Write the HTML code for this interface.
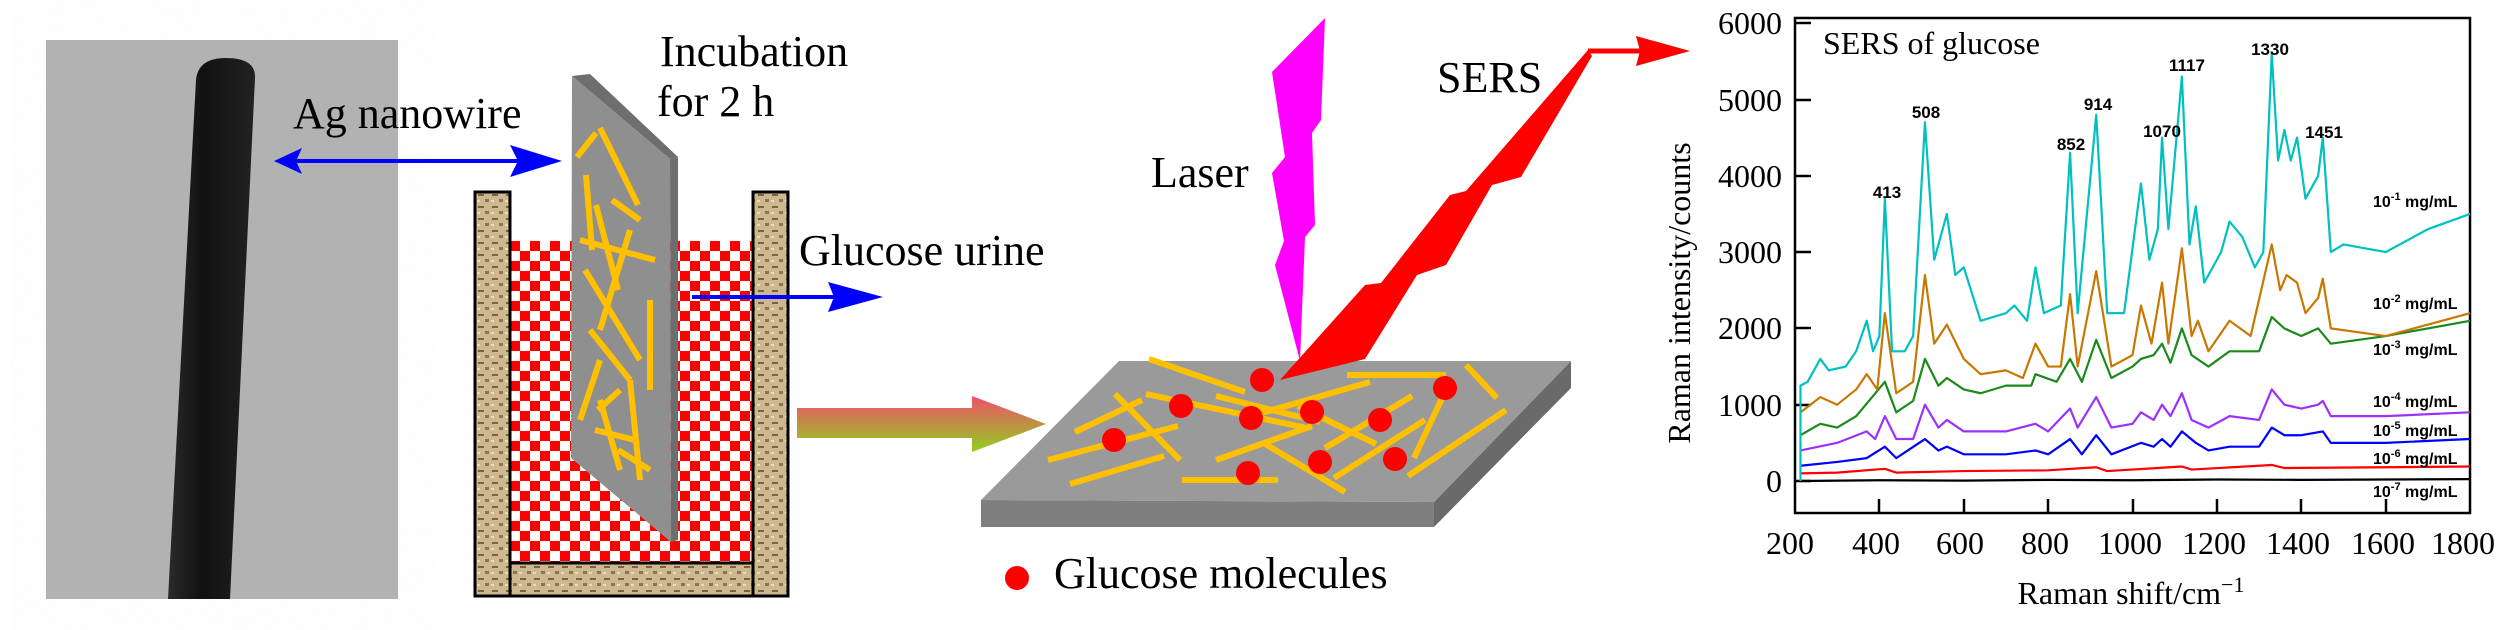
<!DOCTYPE html>
<html><head><meta charset="utf-8">
<style>
html,body{margin:0;padding:0;background:#fff;}
svg{display:block;}
.s{font-family:"Liberation Serif",serif;}
.a{font-family:"Liberation Sans",sans-serif;font-weight:bold;}
</style></head><body>
<svg width="2520" height="630" viewBox="0 0 2520 630" xmlns="http://www.w3.org/2000/svg">
<defs>
<pattern id="chk" width="20" height="20" patternUnits="userSpaceOnUse" x="510" y="241">
<rect width="20" height="20" fill="#fff"/><rect width="10" height="10" fill="#f00"/><rect x="10" y="10" width="10" height="10" fill="#f00"/>
</pattern>
<pattern id="wood" width="14" height="12" patternUnits="userSpaceOnUse">
<rect width="14" height="12" fill="#cdb88f"/><rect x="2" y="2" width="6" height="2" fill="#7a6440"/><rect x="9" y="7" width="4" height="3" fill="#8c7550"/><rect x="1" y="8" width="3" height="2" fill="#e8dcc0"/>
</pattern>
<linearGradient id="ga" x1="0" y1="0" x2="0" y2="1"><stop offset="0" stop-color="#f0506a"/><stop offset="1" stop-color="#8fd020"/></linearGradient>
<linearGradient id="wire" x1="0" y1="0" x2="1" y2="0"><stop offset="0" stop-color="#2a2a2a"/><stop offset="0.4" stop-color="#111"/><stop offset="1" stop-color="#222"/></linearGradient>
<filter id="nz"><feTurbulence baseFrequency="0.6" numOctaves="1" seed="3"/><feColorMatrix values="0 0 0 0 0.5 0 0 0 0 0.5 0 0 0 0 0.5 0 0 0 0.12 0"/></filter>
</defs>

<rect x="46" y="40" width="352" height="559" fill="#b2b2b2"/>
<rect x="46" y="40" width="352" height="559" filter="url(#nz)"/>
<path d="M196,80 Q198,58 226,58 Q256,58 255,78 L230,599 L168,599 Z" fill="url(#wire)"/>

<text class="s" x="293" y="128" font-size="44">Ag nanowire</text>
<line x1="290" y1="161" x2="540" y2="161" stroke="#0000ff" stroke-width="4"/>
<polygon points="274,161 302,148 296,161 302,174" fill="#0000ff"/>
<polygon points="562,161 510,145 518,161 510,177" fill="#0000ff"/>

<rect x="510" y="241" width="243" height="322" fill="url(#chk)"/>
<rect x="475" y="192" width="35" height="404" fill="url(#wood)" stroke="#000" stroke-width="3"/>
<rect x="753" y="192" width="35" height="404" fill="url(#wood)" stroke="#000" stroke-width="3"/>
<rect x="510" y="563" width="243" height="33" fill="url(#wood)" stroke="#000" stroke-width="3"/>
<polygon points="572,76 590,74 678,157 670,159" fill="#6e6e6e"/>
<polygon points="670,159 678,157 678,540 671,542" fill="#6e6e6e"/>
<polygon points="572,76 670,159 671,542 571,458" fill="#8f8f8f"/>
<g stroke="#ffc000" stroke-width="6">
<line x1="577" y1="157" x2="596" y2="133"/>
<line x1="600" y1="128" x2="638" y2="205"/>
<line x1="586" y1="175" x2="592" y2="250"/>
<line x1="612" y1="200" x2="640" y2="220"/>
<line x1="596" y1="205" x2="618" y2="290"/>
<line x1="580" y1="240" x2="655" y2="260"/>
<line x1="630" y1="230" x2="600" y2="330"/>
<line x1="585" y1="270" x2="640" y2="360"/>
<line x1="650" y1="300" x2="650" y2="390"/>
<line x1="590" y1="330" x2="630" y2="380"/>
<line x1="600" y1="360" x2="580" y2="420"/>
<line x1="620" y1="390" x2="598" y2="410"/>
<line x1="630" y1="380" x2="640" y2="480"/>
<line x1="600" y1="400" x2="620" y2="470"/>
<line x1="595" y1="430" x2="635" y2="440"/>
<line x1="618" y1="450" x2="650" y2="470"/>
</g>
<text class="s" x="660" y="66" font-size="44">Incubation</text>
<text class="s" x="657" y="116" font-size="44">for 2 h</text>
<text class="s" x="799" y="265" font-size="44">Glucose urine</text>
<line x1="692" y1="297" x2="840" y2="297" stroke="#0000ff" stroke-width="4"/>
<polygon points="883,297 828,282 834,297 828,312" fill="#0000ff"/>

<polygon points="797,408 972,408 972,396 1046,424 972,452 972,438 797,438" fill="url(#ga)"/>

<polygon points="981,500 1434,502 1434,527 981,527" fill="#7f7f7f"/>
<polygon points="1434,502 1571,361 1571,388 1434,527" fill="#6a6a6a"/>
<polygon points="1119,361 1571,361 1434,502 981,500" fill="#9a9a9a"/>
<g stroke="#ffc000" stroke-width="6">
<line x1="1149" y1="359" x2="1245" y2="392"/>
<line x1="1347" y1="375" x2="1446" y2="375"/>
<line x1="1466" y1="365" x2="1497" y2="398"/>
<line x1="1216" y1="396" x2="1320" y2="422"/>
<line x1="1146" y1="394" x2="1307" y2="428"/>
<line x1="1075" y1="432" x2="1142" y2="400"/>
<line x1="1115" y1="394" x2="1180" y2="460"/>
<line x1="1048" y1="460" x2="1178" y2="426"/>
<line x1="1070" y1="484" x2="1164" y2="456"/>
<line x1="1182" y1="480" x2="1278" y2="480"/>
<line x1="1216" y1="460" x2="1312" y2="426"/>
<line x1="1258" y1="414" x2="1370" y2="382"/>
<line x1="1262" y1="442" x2="1345" y2="492"/>
<line x1="1298" y1="406" x2="1376" y2="444"/>
<line x1="1325" y1="448" x2="1412" y2="396"/>
<line x1="1334" y1="478" x2="1425" y2="420"/>
<line x1="1414" y1="458" x2="1443" y2="396"/>
<line x1="1408" y1="476" x2="1506" y2="410"/>
</g>
<g fill="#f00">
<circle cx="1262" cy="380" r="12"/><circle cx="1181" cy="406" r="12"/><circle cx="1251" cy="418" r="12"/>
<circle cx="1312" cy="412" r="12"/><circle cx="1380" cy="420" r="12"/><circle cx="1445" cy="388" r="12"/>
<circle cx="1114" cy="440" r="12"/><circle cx="1320" cy="462" r="12"/><circle cx="1395" cy="459" r="12"/>
<circle cx="1248" cy="473" r="12"/>
</g>
<polygon points="1325,18 1272,72 1285,157 1272,173 1284,241 1275,265 1300,361 1305,237 1315,225 1312,133 1321,120" fill="#ff00ff"/>
<polygon points="1280,380 1365,285 1381,283 1450,195 1466,191 1588,50 1592,56 1521,177 1492,185 1446,265 1417,275 1365,359" fill="#f00"/>
<line x1="1588" y1="51" x2="1650" y2="51" stroke="#f00" stroke-width="5"/>
<polygon points="1690,51 1636,36 1640,51 1636,66" fill="#f00"/>
<text class="s" x="1151" y="187" font-size="44">Laser</text>
<text class="s" x="1437" y="92" font-size="44">SERS</text>
<text class="s" x="1054" y="588" font-size="44">Glucose molecules</text>
<circle cx="1017" cy="578" r="12" fill="#f00"/>

<rect x="1795" y="18" width="675" height="495" fill="none" stroke="#000" stroke-width="2.5"/>
<g stroke="#000" stroke-width="2.5">
<line x1="1795" y1="481" x2="1811" y2="481"/><line x1="1795" y1="405" x2="1811" y2="405"/>
<line x1="1795" y1="328" x2="1811" y2="328"/><line x1="1795" y1="252" x2="1811" y2="252"/>
<line x1="1795" y1="176" x2="1811" y2="176"/><line x1="1795" y1="100" x2="1811" y2="100"/>
<line x1="1795" y1="23" x2="1811" y2="23"/>
<line x1="1879" y1="513" x2="1879" y2="499"/><line x1="1964" y1="513" x2="1964" y2="499"/>
<line x1="2048" y1="513" x2="2048" y2="499"/><line x1="2133" y1="513" x2="2133" y2="499"/>
<line x1="2217" y1="513" x2="2217" y2="499"/><line x1="2301" y1="513" x2="2301" y2="499"/>
<line x1="2386" y1="513" x2="2386" y2="499"/>
</g>
<g class="s" font-size="32" text-anchor="end">
<text x="1782" y="492">0</text><text x="1782" y="416">1000</text><text x="1782" y="339">2000</text>
<text x="1782" y="263">3000</text><text x="1782" y="187">4000</text><text x="1782" y="111">5000</text>
<text x="1782" y="34">6000</text>
</g>
<g class="s" font-size="32" text-anchor="middle">
<text x="1790" y="554">200</text><text x="1876" y="554">400</text><text x="1960" y="554">600</text>
<text x="2045" y="554">800</text><text x="2130" y="554">1000</text><text x="2214" y="554">1200</text>
<text x="2298" y="554">1400</text><text x="2383" y="554">1600</text><text x="2463" y="554">1800</text>
<text x="2131" y="604">Raman shift/cm<tspan dy="-12" font-size="22">−1</tspan></text>
<text transform="translate(1690,293) rotate(-90)">Raman intensity/counts</text>
</g>
<text class="s" x="1823" y="54" font-size="32">SERS of glucose</text>

<g transform="translate(1795,481) scale(0.4219,-0.0763) translate(-200,0)" fill="none" stroke-width="2.2" stroke-linejoin="round">
<polyline vector-effect="non-scaling-stroke" stroke="#000" points="213,0 400,10 600,5 800,15 1000,10 1200,20 1400,15 1600,20 1800,25"/>
<polyline vector-effect="non-scaling-stroke" stroke="#f00" points="213,100 300,110 413,160 440,110 600,130 800,140 914,180 940,130 1117,190 1140,150 1330,210 1360,170 1600,180 1800,190"/>
<polyline vector-effect="non-scaling-stroke" stroke="#0000ff" points="213,200 300,250 370,300 413,450 440,300 508,550 540,400 560,450 600,350 700,350 770,400 800,350 852,550 880,350 914,600 950,350 1020,500 1050,450 1070,550 1090,450 1117,650 1150,500 1180,400 1230,450 1300,450 1330,700 1360,600 1400,600 1451,650 1470,500 1600,500 1800,550"/>
<polyline vector-effect="non-scaling-stroke" stroke="#9b30ff" points="213,400 300,500 370,650 390,550 413,850 440,550 480,550 508,1000 540,700 560,800 600,650 700,650 770,750 800,650 852,950 870,700 914,1100 950,700 1000,750 1020,900 1050,800 1070,1000 1090,850 1117,1150 1140,800 1180,700 1230,850 1300,800 1330,1200 1360,1000 1400,950 1440,1000 1451,1050 1470,850 1600,850 1800,900"/>
<polyline vector-effect="non-scaling-stroke" stroke="#1a8a1a" points="213,600 260,750 300,700 345,850 413,1300 440,900 480,1050 508,1600 540,1250 560,1350 600,1200 640,1150 700,1250 760,1250 770,1400 820,1300 852,1600 880,1300 914,1850 950,1350 1000,1500 1020,1600 1050,1650 1070,1800 1090,1550 1117,2000 1140,1650 1180,1500 1230,1700 1300,1700 1330,2150 1360,2000 1400,1900 1440,2000 1470,1800 1600,1900 1800,2100"/>
<polyline vector-effect="non-scaling-stroke" stroke="#c87800" points="213,900 260,1100 300,1000 345,1200 370,1400 395,1200 413,2200 440,1150 480,1300 508,2700 530,1800 560,2050 600,1600 640,1400 700,1450 740,1350 770,1800 800,1500 830,1500 852,2450 870,1500 914,2750 950,1500 1000,1650 1020,2300 1045,1800 1070,2600 1085,1800 1117,3050 1140,1900 1155,2100 1180,1700 1230,2100 1280,1900 1330,3100 1350,2500 1365,2700 1390,2600 1410,2200 1440,2400 1451,2650 1470,2000 1600,1900 1800,2200"/>
<polyline vector-effect="non-scaling-stroke" stroke="#00c0c0" points="213,0 213,1250 230,1300 260,1600 280,1450 320,1500 345,1700 370,2100 385,1700 400,1900 413,3700 430,1700 460,1700 480,1900 508,4700 530,2900 560,3500 580,2700 600,2800 640,2100 700,2200 720,2300 750,2100 770,2800 790,2200 830,2300 852,4300 870,2200 914,4800 940,2200 980,2200 1020,3900 1040,2900 1060,3300 1070,4500 1085,3300 1117,5300 1135,3100 1150,3600 1170,2600 1210,3000 1230,3400 1260,3200 1290,2800 1310,3000 1330,5600 1345,4200 1360,4600 1375,4200 1390,4500 1410,3700 1440,4000 1451,4500 1470,3000 1500,3100 1600,3000 1700,3300 1800,3500"/>
</g>
<g class="a" font-size="17" text-anchor="middle">
<text x="1887" y="198">413</text><text x="1926" y="118">508</text><text x="2071" y="150">852</text>
<text x="2098" y="110">914</text><text x="2162" y="137">1070</text><text x="2187" y="71">1117</text>
<text x="2270" y="55">1330</text><text x="2324" y="138">1451</text>
</g>
<g class="a" font-size="16">
<text x="2373" y="207">10<tspan dy="-7" font-size="11">-1</tspan><tspan dy="7"> mg/mL</tspan></text>
<text x="2373" y="309">10<tspan dy="-7" font-size="11">-2</tspan><tspan dy="7"> mg/mL</tspan></text>
<text x="2373" y="355">10<tspan dy="-7" font-size="11">-3</tspan><tspan dy="7"> mg/mL</tspan></text>
<text x="2373" y="407">10<tspan dy="-7" font-size="11">-4</tspan><tspan dy="7"> mg/mL</tspan></text>
<text x="2373" y="436">10<tspan dy="-7" font-size="11">-5</tspan><tspan dy="7"> mg/mL</tspan></text>
<text x="2373" y="464">10<tspan dy="-7" font-size="11">-6</tspan><tspan dy="7"> mg/mL</tspan></text>
<text x="2373" y="497">10<tspan dy="-7" font-size="11">-7</tspan><tspan dy="7"> mg/mL</tspan></text>
</g>
</svg>
</body></html>
